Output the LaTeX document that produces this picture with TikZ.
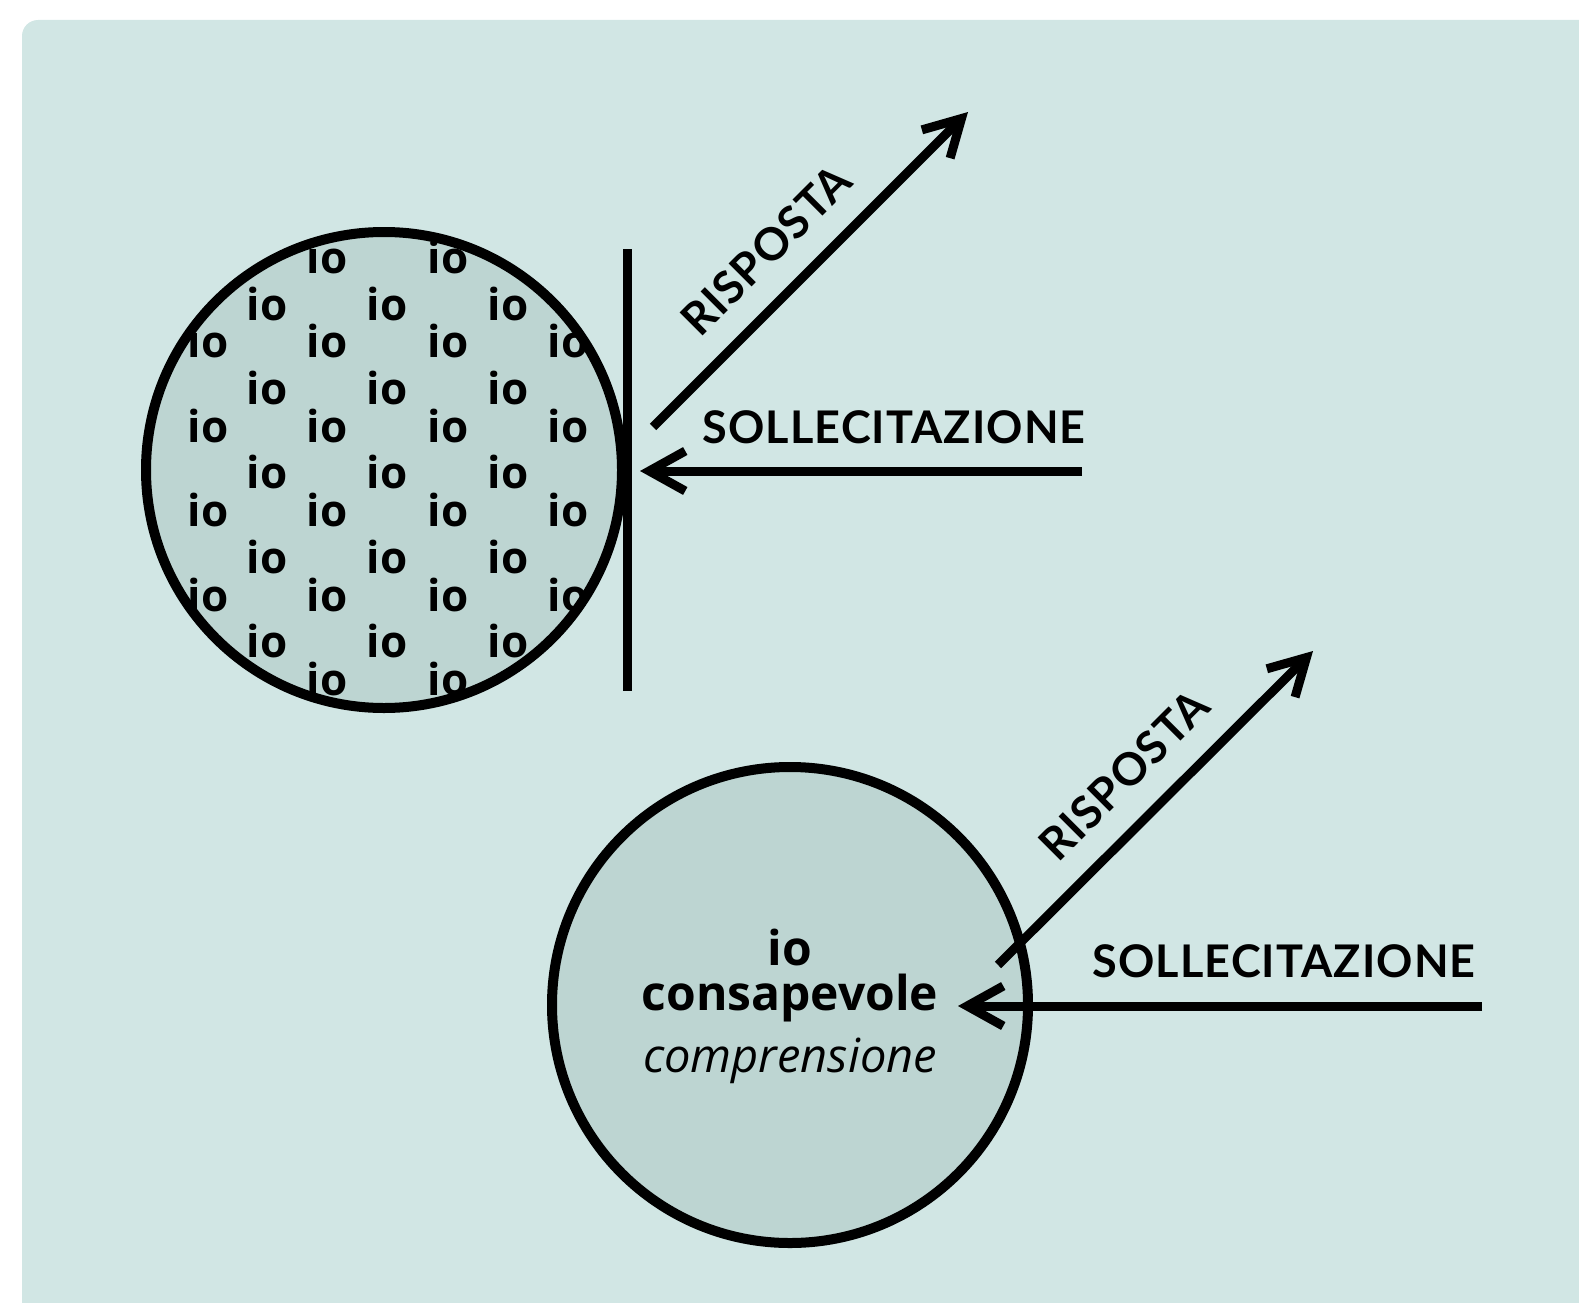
\documentclass[tikz,border=0pt]{standalone}
\usepackage{fontspec}
\setmainfont{Open Sans}
\newfontfamily\capsfont[LetterSpace=2.5]{Lato}
\usetikzlibrary{arrows.meta}

\begin{document}
\begin{tikzpicture}[x=1pt, y=-1pt]
  % Colors
  \definecolor{panel}{HTML}{d1e6e4}
  \definecolor{blob}{HTML}{bdd5d2}
  \definecolor{outline}{HTML}{000000}

  % Configurations
  \tikzset{
    stroke/.style={line width=10pt, draw=outline},
    shot/.style={line width=9pt, draw=outline,
      -{Straight Barb[length=36pt, width=40pt, sharp]}},
    tag/.style={inner sep=0pt, font=\capsfont\bfseries\fontsize{45}{45}\selectfont},
    ego/.style={inner sep=0pt, anchor=base, font=\bfseries\fontsize{44}{44}\selectfont},
    mind/.style={inner sep=0pt, anchor=base, font=\fontsize{48}{48}\selectfont},
  }

  % Bounding box
  \clip (0,0) rectangle (1579,1303);
  \fill [panel, rounded corners=16pt] (22,20) rectangle (1640,1340);

  % Crowded circle
  \fill [blob] (384,470) circle (238pt);
  \foreach \yy in {273,695}
    \foreach \xx in {327,448}
      \node [ego] (io-\xx-\yy) at (\xx,\yy) {io};
  \foreach \yy in {357,442,526,611}
    \foreach \xx in {208,327,448,568}
      \node [ego] (io-\xx-\yy) at (\xx,\yy) {io};
  \foreach \yy in {320,404,488,573,657}
    \foreach \xx in {267,387,508}
      \node [ego] (io-\xx-\yy) at (\xx,\yy) {io};
  \draw [stroke] (384,470) circle (238pt);
  % Wall
  \draw [line width=9pt, draw=outline] (627,249) -- (627,691);

  % Upper arrows
  \coordinate (push1) at (1082,471);
  \coordinate (hit1) at (640,471);
  \coordinate (back1) at (653,427);
  \coordinate (out1) at (968,112);
  \draw [shot] (push1) -- (hit1);
  \draw [shot] (back1) -- (out1);
  \node [tag] (stim1) at (894,427) {SOLLECITAZIONE};
  \node [tag, rotate=45] (resp1) at (766,250) {RISPOSTA};

  % Aware circle
  \draw [stroke, fill=blob] (790,1005) circle (238pt);
  \node [mind, font=\bfseries\fontsize{48}{48}\selectfont] (self) at (790,965) {io};
  \node [mind, font=\bfseries\fontsize{48}{48}\selectfont] (aware) at (790,1010) {consapevole};
  \node [mind, font=\itshape\fontsize{47}{47}\selectfont] (grasp) at (790,1072) {comprensione};

  % Lower arrows
  \coordinate (push2) at (1482,1006);
  \coordinate (hit2) at (958,1006);
  \coordinate (back2) at (998,965);
  \coordinate (out2) at (1313,651);
  \draw [shot] (push2) -- (hit2);
  \draw [shot] (back2) -- (out2);
  \node [tag] (stim2) at (1284,961) {SOLLECITAZIONE};
  \node [tag, rotate=45] (resp2) at (1124,775) {RISPOSTA};
\end{tikzpicture}
\end{document}
